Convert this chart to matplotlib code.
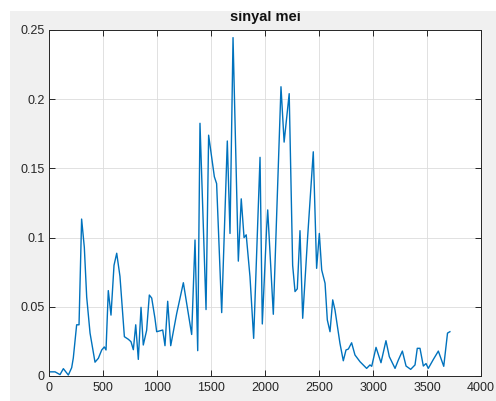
import matplotlib
matplotlib.use('Agg')
import matplotlib.pyplot as plt
from matplotlib.patches import Rectangle

# values
x_vals = [0, 56, 102, 133, 179, 210, 225, 256, 278, 302, 327, 349, 380, 426, 457,
          488, 512, 528, 549, 574, 602, 627, 657, 698, 735, 759, 781, 803, 827, 852,
          873, 904, 929, 951, 981, 997, 1053, 1074, 1099, 1127, 1182, 1244, 1321, 1352, 1377,
          1398, 1454, 1478, 1531, 1552, 1599, 1651, 1676, 1704, 1753, 1780, 1806, 1826, 1861,
          1895, 1954, 1975, 2015, 2025, 2077, 2148, 2177, 2224, 2256, 2278, 2299, 2324, 2349,
          2395, 2447, 2478, 2503, 2525, 2556, 2577, 2602, 2627, 2648, 2694, 2725, 2750, 2772,
          2802, 2833, 2880, 2941, 2972, 2988, 3028, 3074, 3120, 3151, 3204, 3235, 3272, 3306,
          3349, 3389, 3410, 3435, 3466, 3491, 3512, 3559, 3605, 3655, 3690, 3712]
y_vals = [0.003, 0.003, 0.001, 0.0053, 0.0007, 0.006, 0.013, 0.037, 0.037, 0.1134, 0.093,
          0.057, 0.031, 0.010, 0.0128, 0.0188, 0.021, 0.0188, 0.0617, 0.044, 0.080, 0.0887,
          0.072, 0.0284, 0.0265, 0.0248, 0.019, 0.037, 0.012, 0.0496, 0.0224, 0.033, 0.0585,
          0.0563, 0.0417, 0.032, 0.0332, 0.0219, 0.054, 0.0219, 0.045, 0.0674, 0.030, 0.0983,
          0.0183, 0.1826, 0.048, 0.174, 0.144, 0.139, 0.0458, 0.1698, 0.103, 0.2445, 0.083,
          0.128, 0.100, 0.102, 0.0717, 0.0272, 0.158, 0.0376, 0.107, 0.120, 0.0446, 0.209,
          0.169, 0.204, 0.080, 0.061, 0.063, 0.105, 0.0417, 0.1007, 0.162, 0.0778, 0.103,
          0.0766, 0.067, 0.0405, 0.032, 0.055, 0.0477, 0.0236, 0.011, 0.0188, 0.0195, 0.024,
          0.0152, 0.0103, 0.0055, 0.008, 0.007, 0.0207, 0.0096, 0.0255, 0.014, 0.0055, 0.0116,
          0.018, 0.0072, 0.0048, 0.008, 0.020, 0.020, 0.0072, 0.009, 0.0055, 0.012, 0.018,
          0.007, 0.031, 0.032]
x_ticks = [0, 500, 1000, 1500, 2000, 2500, 3000, 3500, 4000]
y_ticks = [0, 0.05, 0.1, 0.15, 0.2, 0.25]
y_tick_labels = ['0', '0.05', '0.1', '0.15', '0.2', '0.25']
title_text = 'sinyal mei'

plt.rcParams['font.family'] = ['Liberation Sans', 'DejaVu Sans']

fig = plt.figure(figsize=(4.96, 4.01), dpi=100)
fig.patch.set_facecolor('white')
# grey MATLAB figure area, offset from top-left
fig.patches.append(Rectangle((10 / 496, 0), 1, 390 / 401, transform=fig.transFigure,
                             facecolor='#f0f0f0', edgecolor='none', zorder=-10))

ax = fig.add_axes([49 / 496, 25 / 401, 432 / 496, 346 / 401])
ax.set_facecolor('white')
ax.plot(x_vals, y_vals, color='#0072BD', linewidth=1.0)

ax.set_xlim(0, 4000)
ax.set_ylim(0, 0.25)
ax.set_xticks(x_ticks)
ax.set_yticks(y_ticks)
ax.set_yticklabels(y_tick_labels)
ax.grid(True, color='#dcdcdc', linewidth=0.6)
ax.set_axisbelow(True)
ax.tick_params(direction='in', top=True, right=True, length=4, width=0.7,
               colors='#262626', labelsize=9, pad=3)
ax.tick_params(axis='x', pad=4)
for sp in ax.spines.values():
    sp.set_color('#262626')
    sp.set_linewidth(0.7)

fig.text(265 / 496, 1 - 21 / 401, title_text, ha='center', va='baseline',
         fontsize=10.5, fontweight='bold', color='#111111')
# top strip clips the title like the reference
fig.patches.append(Rectangle((0, 1 - 11 / 401), 1, 11 / 401, transform=fig.transFigure,
                             facecolor='white', edgecolor='none', zorder=10))

fig.savefig('out.png', dpi=100)
